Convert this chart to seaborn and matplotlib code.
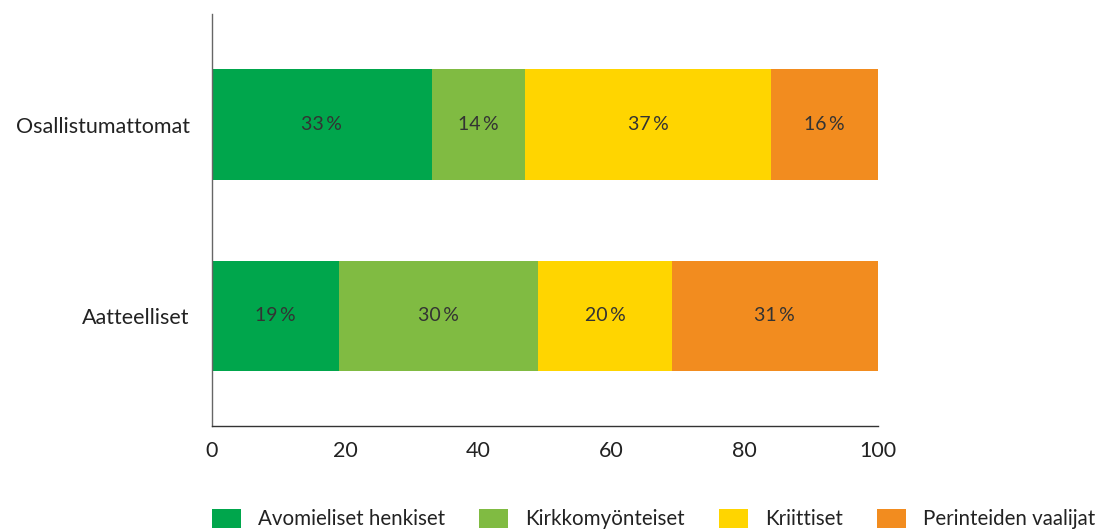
import matplotlib.pyplot as plt
import matplotlib.patches as mpatches
import seaborn as sns
import pandas as pd
import numpy as np

groups = ["Osallistumattomat", "Aatteelliset"]
segments = ["Avomieliset henkiset", "Kirkkomyönteiset", "Kriittiset", "Perinteiden vaalijat"]
avomieliset = [33, 19]
kirkko = [14, 30]
kriittiset = [37, 20]
perinteiden = [16, 31]
colors = ["#00A64C", "#80BB42", "#FFD500", "#F28C1F"]

sns.set_theme(style="white")
plt.rcParams['font.family'] = ['Lato', 'DejaVu Sans']

values = np.array([avomieliset, kirkko, kriittiset, perinteiden])
cum = values.cumsum(axis=0)

fig = plt.figure(figsize=(10.98, 5.31), dpi=100)
ax = fig.add_axes([212 / 1098, 1 - 426 / 531, (878 - 212) / 1098, (426 - 14) / 531])

# stacked bars: draw cumulative totals from the outermost segment inward
for i in range(len(segments) - 1, -1, -1):
    df = pd.DataFrame({"group": groups, "value": cum[i]})
    sns.barplot(data=df, x="value", y="group", color=colors[i], orient="h",
                width=0.58, saturation=1, linewidth=0, ax=ax, zorder=2)

for i in range(len(segments)):
    for j in range(len(groups)):
        center = cum[i][j] - values[i][j] / 2
        ax.text(center, j, f"{values[i][j]}\u2009%", ha="center", va="center",
                fontsize=14, color="#333333")

ax.set_xlim(0, 100)
ax.set_ylim(1.576, -0.58)
ax.set_xticks([0, 20, 40, 60, 80, 100])
ax.set_xlabel("")
ax.set_ylabel("")
ax.tick_params(axis="x", direction="in", length=7, width=1, color="#333333",
               labelsize=15.5, labelcolor="#222222", pad=11)
ax.tick_params(axis="y", length=0, labelsize=15.5, labelcolor="#222222", pad=16)
for s in ["top", "right"]:
    ax.spines[s].set_visible(False)
ax.spines["left"].set_color("#666666")
ax.spines["bottom"].set_color("#333333")
ax.spines["left"].set_linewidth(1)
ax.spines["bottom"].set_linewidth(1)

handles = [mpatches.Patch(color=c, label=l, linewidth=0) for c, l in zip(colors, segments)]
fig.legend(handles=handles, loc="center left", bbox_to_anchor=(212 / 1098, 12 / 531),
           ncol=4, frameon=False, fontsize=14.8, handlelength=1.4, handleheight=1.1,
           handletextpad=0.85, columnspacing=1.65, borderpad=0, borderaxespad=0,
           labelcolor="#222222")

fig.savefig("out.png", dpi=100)
